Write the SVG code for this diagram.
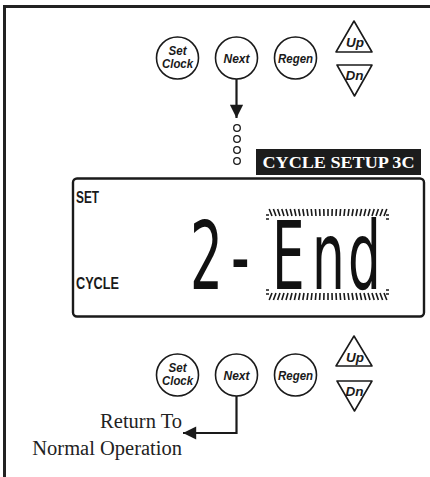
<svg xmlns="http://www.w3.org/2000/svg" width="430" height="477" viewBox="0 0 430 477">
<style>
.btn{fill:#fff;stroke:#1a1a1a;stroke-width:1.6}
.tri{fill:#fff;stroke:#1a1a1a;stroke-width:1.6;stroke-linejoin:round}
.bt{font-family:"Liberation Sans",Arial,sans-serif;font-weight:bold;font-style:italic;fill:#1a1a1a;text-anchor:middle}
.lcdl{font-family:"Liberation Sans",Arial,sans-serif;font-weight:bold;fill:#1a1a1a}
.ser{font-family:"Liberation Serif","Times New Roman",serif;fill:#222}
.line{fill:none;stroke:#1a1a1a;stroke-width:2.2}
.hatch{fill:none;stroke:#1a1a1a;stroke-width:1.6}
.dot{fill:#fff;stroke:#1a1a1a;stroke-width:1.3}
</style>
<defs>
<marker id="ah" viewBox="0 0 10 10" refX="10" refY="5" markerWidth="6.5" markerHeight="6" markerUnits="strokeWidth" orient="auto">
<path d="M0 0L10 5L0 10Z" fill="#1a1a1a"/>
</marker>
</defs>
<rect width="430" height="477" fill="#fff"/>
<path d="M4.5 477V6.5H430" fill="none" stroke="#222" stroke-width="3"/>

<g id="top-setclock"><circle class="btn" cx="177.5" cy="58" r="21"/><text class="bt" x="177.5" y="54.5" font-size="12.5" textLength="18" lengthAdjust="spacingAndGlyphs">Set</text><text class="bt" x="177.5" y="68" font-size="12.5" textLength="31" lengthAdjust="spacingAndGlyphs">Clock</text></g>
<g id="top-next"><circle class="btn" cx="236.5" cy="58" r="21"/><text class="bt" x="236.5" y="63" font-size="13" textLength="26" lengthAdjust="spacingAndGlyphs">Next</text></g>
<g id="top-regen"><circle class="btn" cx="295.5" cy="58" r="21"/><text class="bt" x="295.5" y="63" font-size="13" textLength="35" lengthAdjust="spacingAndGlyphs">Regen</text></g>
<g id="top-up"><path class="tri" d="M354 21L372 52L336 52Z"/><text class="bt" x="355" y="47" font-size="12.5" textLength="18" lengthAdjust="spacingAndGlyphs">Up</text></g>
<g id="top-dn"><path class="tri" d="M337 65L372 65L354.5 96Z"/><text class="bt" x="354.5" y="80" font-size="12.5" textLength="18" lengthAdjust="spacingAndGlyphs">Dn</text></g>

<g id="dots"><circle class="dot" cx="237" cy="128" r="3.3"/><circle class="dot" cx="237" cy="139" r="3.3"/><circle class="dot" cx="237" cy="150" r="3.3"/><circle class="dot" cx="237" cy="161" r="3.3"/></g>

<g id="label-cycle-setup"><rect x="256" y="149" width="165" height="26" fill="#1c1c1c"/><text class="ser" x="338.5" y="168" font-size="16" font-weight="bold" style="fill:#fff" text-anchor="middle" textLength="152" lengthAdjust="spacingAndGlyphs">CYCLE SETUP 3C</text></g>

<g id="lcd">
<rect x="73" y="178.5" width="351" height="138" rx="4" fill="#fff" stroke="#1a1a1a" stroke-width="2.4"/>
<text class="lcdl" x="76" y="203" font-size="16" textLength="23" lengthAdjust="spacingAndGlyphs">SET</text>
<text class="lcdl" x="76" y="289" font-size="16" textLength="43" lengthAdjust="spacingAndGlyphs">CYCLE</text>
<text transform="scale(0.55,1)" x="345.5 420 494.5 567.3 632.7" y="289" font-family="'DejaVu Sans',sans-serif" font-size="94" fill="#111">2-End</text>
<path class="hatch" d="M272 216l-2.8-7M276 216l-2.6-7M280 216l-2.4-7M284 216l-2.2-7M288 216l-2-7M292 216l-1.8-7M296 216l-1.6-7M300 216l-1.4-7M304 216l-1.2-7M308 216l-1-7M312 216l-0.8-7M316 216l-0.6-7M320 216l-0.4-7M324 216l-0.2-7M328 216l0-7M332 216l0.2-7M336 216l0.4-7M340 216l0.6-7M344 216l0.8-7M348 216l1-7M352 216l1.2-7M356 216l1.4-7M360 216l1.6-7M364 216l1.8-7M368 216l2-7M372 216l2.2-7M376 216l2.4-7M380 216l2.6-7M384 216l2.8-7"/>
<path class="hatch" d="M272 293l-2.8 7M276 293l-2.6 7M280 293l-2.4 7M284 293l-2.2 7M288 293l-2 7M292 293l-1.8 7M296 293l-1.6 7M300 293l-1.4 7M304 293l-1.2 7M308 293l-1 7M312 293l-0.8 7M316 293l-0.6 7M320 293l-0.4 7M324 293l-0.2 7M328 293l0 7M332 293l0.2 7M336 293l0.4 7M340 293l0.6 7M344 293l0.8 7M348 293l1 7M352 293l1.2 7M356 293l1.4 7M360 293l1.6 7M364 293l1.8 7M368 293l2 7M372 293l2.2 7M376 293l2.4 7M380 293l2.6 7M384 293l2.8 7"/>
<path class="hatch" d="M266 215h3M266 219h3M386 215h3M386 219h3M266 290h3M266 294h3M386 290h3M386 294h3"/>
</g>

<g id="bot-setclock"><circle class="btn" cx="177.5" cy="375" r="21"/><text class="bt" x="177.5" y="371.5" font-size="12.5" textLength="18" lengthAdjust="spacingAndGlyphs">Set</text><text class="bt" x="177.5" y="385" font-size="12.5" textLength="31" lengthAdjust="spacingAndGlyphs">Clock</text></g>
<g id="bot-next"><circle class="btn" cx="236.5" cy="375" r="21"/><text class="bt" x="236.5" y="380" font-size="13" textLength="26" lengthAdjust="spacingAndGlyphs">Next</text></g>
<g id="bot-regen"><circle class="btn" cx="295.5" cy="375" r="21"/><text class="bt" x="295.5" y="380" font-size="13" textLength="35" lengthAdjust="spacingAndGlyphs">Regen</text></g>
<g id="bot-up"><path class="tri" d="M354 336L372 366L336 366Z"/><text class="bt" x="355" y="362" font-size="12.5" textLength="18" lengthAdjust="spacingAndGlyphs">Up</text></g>
<g id="bot-dn"><path class="tri" d="M337 381L372 381L354.5 411Z"/><text class="bt" x="354.5" y="396" font-size="12.5" textLength="18" lengthAdjust="spacingAndGlyphs">Dn</text></g>

<g id="return-label"><text class="ser" x="182" y="428" font-size="20.5" text-anchor="end">Return To</text><text class="ser" x="182" y="455" font-size="20.5" text-anchor="end">Normal Operation</text></g>

<g id="connectors">
<path class="line" d="M236.5 79V118" marker-end="url(#ah)"/>
<path class="line" d="M236.5 396V433H183" marker-end="url(#ah)"/>
</g>
</svg>
